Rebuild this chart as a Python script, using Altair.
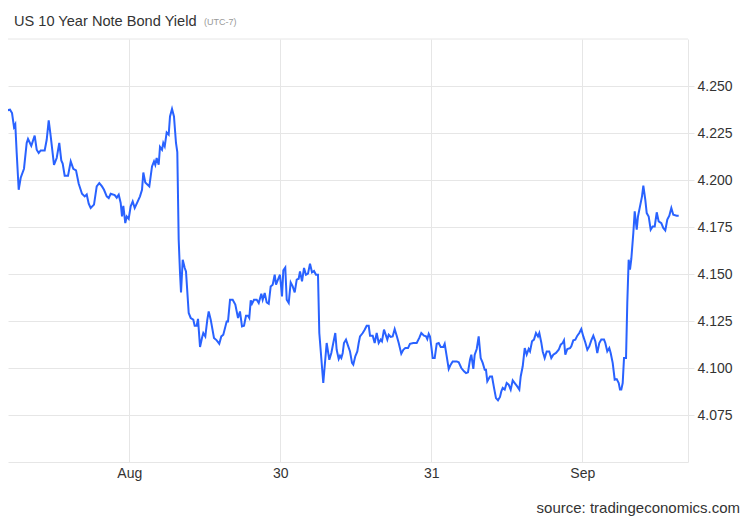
import altair as alt
import pandas as pd

# time in hours relative to Aug 29 00:00 (UTC-7)
hours = [-20.55, -20.12, -19.80, -19.49, -18.96, -18.64, -18.33, -18.12, -17.90, -17.58,
         -17.26, -16.74, -16.31, -16.10, -15.58, -15.04, -14.72, -14.40, -14.08, -13.45,
         -13.13, -12.81, -12.49, -11.97, -11.54, -11.13, -10.81, -10.59, -10.27, -9.74,
         -9.31, -8.90, -8.47, -8.04, -7.52, -7.09, -6.77, -6.45, -6.14, -5.61,
         -5.18, -4.77, -4.34, -4.02, -3.59, -3.27, -2.96, -2.32, -2.00, -1.68,
         -1.37, -1.16, -0.95, -0.64, -0.41, -0.10, 0.22, 0.54, 0.86, 1.27,
         1.70, 2.02, 2.23, 2.54, 3.18, 3.61, 3.93, 4.13, 4.35, 4.67,
         4.88, 5.20, 5.40, 5.63, 5.94, 6.26, 6.47, 6.79, 7.10, 7.42,
         7.63, 7.85, 8.06, 8.22, 8.49, 8.81, 9.01, 9.44, 9.76, 10.17,
         10.39, 10.71, 10.92, 11.24, 11.55, 11.76, 12.08, 12.40, 12.62, 12.94,
         13.46, 13.89, 14.30, 14.62, 14.94, 15.48, 15.69, 16.01, 16.43, 16.85,
         17.28, 17.59, 17.91, 18.23, 18.55, 18.87, 19.07, 19.30, 19.50, 19.82,
         20.25, 20.57, 20.98, 21.20, 21.52, 21.84, 22.16, 22.47, 22.79, 23.11,
         23.32, 23.63, 23.95, 24.27, 24.48, 24.79, 25.02, 25.34, 25.65, 25.97,
         26.29, 26.61, 26.92, 27.13, 27.45, 27.77, 28.08, 28.40, 28.72, 29.04,
         29.36, 29.67, 29.99, 30.20, 30.83, 31.37, 31.79, 32.11, 32.42, 32.74,
         32.96, 33.28, 33.49, 33.70, 33.92, 34.12, 34.44, 34.76, 35.08, 35.40,
         35.60, 35.92, 36.24, 36.46, 36.67, 37.10, 37.41, 37.73, 38.05, 38.26,
         38.69, 39.00, 39.32, 39.64, 39.96, 40.16, 40.48, 40.80, 41.01, 41.23,
         41.55, 41.86, 42.18, 42.50, 42.82, 43.23, 43.55, 43.87, 44.30, 44.61,
         45.14, 45.68, 46.09, 46.41, 46.84, 47.16, 47.36, 47.59, 47.79, 48.00,
         48.22, 48.54, 48.86, 49.18, 49.49, 49.91, 50.13, 50.45, 50.77, 51.08,
         51.40, 52.04, 52.36, 52.77, 53.20, 53.52, 53.83, 54.15, 54.36, 54.68,
         54.90, 55.22, 55.53, 55.85, 56.17, 56.49, 56.69, 56.90, 57.33, 57.65,
         57.97, 58.28, 58.60, 58.92, 59.13, 59.35, 59.67, 59.98, 60.30, 60.62,
         60.94, 61.26, 61.57, 61.99, 62.21, 62.53, 62.85, 63.16, 63.48, 63.69,
         64.01, 64.32, 64.64, 64.96, 65.17, 65.48, 65.71, 66.02, 66.34, 66.75,
         67.07, 67.39, 67.82, 68.25, 68.57, 68.88, 69.09, 69.30, 69.62, 70.05,
         70.25, 70.57, 70.89, 71.21, 71.52, 71.84, 72.16, 72.48, 72.80, 73.11,
         73.43, 73.75, 74.07, 74.38, 74.70, 75.02, 75.45, 75.66, 75.97, 76.29,
         76.51, 76.83, 77.15, 77.47, 77.79, 77.99, 78.20, 78.42, 78.63, 78.95,
         79.15, 79.37, 79.58, 79.79, 80.11, 80.33, 80.65, 80.85, 81.17, 81.49,
         81.70, 82.01, 82.24, 82.55, 82.87, 83.19, 83.51, 83.83, 84.14, 84.56,
         84.87, 85.19, 85.51, 85.83, 86.15, 86.46, 87.00, 87.32]

yields = [4.2413, 4.2374, 4.2338, 4.2370, 4.2374, 4.2356, 4.2282, 4.2296, 4.2145, 4.1948,
          4.2012, 4.2060, 4.2197, 4.2218, 4.2182, 4.2236, 4.2161, 4.2144, 4.2157, 4.2157,
          4.2214, 4.2317, 4.2232, 4.2081, 4.2117, 4.2197, 4.2104, 4.2087, 4.2023, 4.2023,
          4.2099, 4.2059, 4.2051, 4.1980, 4.1927, 4.1913, 4.1923, 4.1874, 4.1851, 4.1869,
          4.1966, 4.1984, 4.1966, 4.1948, 4.1913, 4.1904, 4.1927, 4.1920, 4.1906, 4.1922,
          4.1878, 4.1806, 4.1863, 4.1771, 4.1806, 4.1793, 4.1860, 4.1886, 4.1851, 4.1881,
          4.1913, 4.1948, 4.2040, 4.1987, 4.1966, 4.2072, 4.2099, 4.2081, 4.2117, 4.2081,
          4.2176, 4.2161, 4.2197, 4.2179, 4.2253, 4.2241, 4.2338, 4.2378, 4.2338, 4.2197,
          4.2148, 4.1682, 4.1505, 4.1402, 4.1576, 4.1532, 4.1514, 4.1293, 4.1266, 4.1257,
          4.1225, 4.1225, 4.1261, 4.1112, 4.1160, 4.1186, 4.1168, 4.1257, 4.1301, 4.1257,
          4.1160, 4.1147, 4.1129, 4.1168, 4.1177, 4.1248, 4.1248, 4.1363, 4.1363, 4.1337,
          4.1266, 4.1301, 4.1221, 4.1225, 4.1278, 4.1278, 4.1266, 4.1360, 4.1342, 4.1363,
          4.1363, 4.1346, 4.1395, 4.1363, 4.1399, 4.1349, 4.1342, 4.1434, 4.1443, 4.1496,
          4.1443, 4.1470, 4.1496, 4.1381, 4.1519, 4.1534, 4.1363, 4.1346, 4.1455, 4.1434,
          4.1402, 4.1470, 4.1475, 4.1514, 4.1461, 4.1532, 4.1496, 4.1502, 4.1555, 4.1509,
          4.1516, 4.1496, 4.1496, 4.1186, 4.0920, 4.1133, 4.1044, 4.1080, 4.1133, 4.1186,
          4.1097, 4.1048, 4.1065, 4.1053, 4.1080, 4.1133, 4.1151, 4.1119, 4.1088, 4.1027,
          4.1018, 4.1062, 4.1088, 4.1133, 4.1168, 4.1186, 4.1204, 4.1225, 4.1225, 4.1172,
          4.1172, 4.1133, 4.1186, 4.1133, 4.1151, 4.1142, 4.1204, 4.1172, 4.1151, 4.1177,
          4.1165, 4.1168, 4.1207, 4.1172, 4.1133, 4.1076, 4.1097, 4.1106, 4.1106, 4.1129,
          4.1133, 4.1133, 4.1160, 4.1186, 4.1172, 4.1168, 4.1154, 4.1182, 4.1168, 4.1115,
          4.1053, 4.1053, 4.1129, 4.1133, 4.1112, 4.1112, 4.1129, 4.1062, 4.0995, 4.1018,
          4.1035, 4.1035, 4.1030, 4.1000, 4.0982, 4.0973, 4.0977, 4.1044, 4.1071, 4.0995,
          4.1071, 4.1101, 4.1168, 4.1053, 4.1027, 4.0991, 4.0991, 4.0929, 4.0955, 4.0955,
          4.0894, 4.0840, 4.0828, 4.0846, 4.0876, 4.0894, 4.0885, 4.0920, 4.0911, 4.0885,
          4.0934, 4.0920, 4.0906, 4.0885, 4.0955, 4.1009, 4.1106, 4.1071, 4.1101, 4.1088,
          4.1142, 4.1151, 4.1186, 4.1168, 4.1186, 4.1136, 4.1088, 4.1053, 4.1088, 4.1088,
          4.1053, 4.1071, 4.1080, 4.1097, 4.1124, 4.1133, 4.1147, 4.1071, 4.1101, 4.1106,
          4.1115, 4.1147, 4.1151, 4.1172, 4.1186, 4.1207, 4.1168, 4.1136, 4.1097, 4.1115,
          4.1147, 4.1172, 4.1142, 4.1080, 4.1133, 4.1151, 4.1151, 4.1133, 4.1088, 4.1106,
          4.1080, 4.1027, 4.0938, 4.0941, 4.0920, 4.0885, 4.0885, 4.0920, 4.1053, 4.1053,
          4.1346, 4.1576, 4.1523, 4.1580, 4.1718, 4.1833, 4.1736, 4.1806, 4.1860, 4.1913,
          4.1970, 4.1895, 4.1824, 4.1806, 4.1736, 4.1753, 4.1753, 4.1828, 4.1780, 4.1771,
          4.1745, 4.1732, 4.1789, 4.1810, 4.1851, 4.1815, 4.1810, 4.1810]

x_ticks = [0, 24, 48, 72]
x_labels = ["Aug", "30", "31", "Sep"]
y_ticks = [4.075, 4.100, 4.125, 4.150, 4.175, 4.200, 4.225, 4.250]
top_line = [4.275]

title_text = "US 10 Year Note Bond Yield"
subtitle_text = "(UTC-7)"
source_text = "source: tradingeconomics.com"

FONT = "Liberation Sans"
GRID = "#e6e6e6"

df = pd.DataFrame({"h": hours, "v": yields})

label_expr = ""
for v, lab in zip(x_ticks, x_labels):
    label_expr += f"datum.value == {v} ? '{lab}' : "
label_expr += "''"

x_scale = alt.Scale(domain=[-19.28, 88.8], nice=False, zero=False)
y_scale = alt.Scale(domain=[4.05, 4.275], nice=False, zero=False)

line = alt.Chart(df).mark_line(color="#2962ff", strokeWidth=2, clip=True).encode(
    x=alt.X("h:Q", scale=x_scale,
            axis=alt.Axis(values=x_ticks, labelExpr=label_expr, grid=True, ticks=False,
                          domainColor=GRID, gridColor=GRID, labelFont=FONT, labelFontSize=14,
                          labelColor="#333333", labelPadding=4, title=None)),
    y=alt.Y("v:Q", scale=y_scale,
            axis=alt.Axis(orient="right", values=y_ticks, format=".3f", grid=True,
                          gridColor=GRID, tickColor=GRID, tickSize=6, domainColor=GRID,
                          labelPadding=3, labelFont=FONT, labelFontSize=14,
                          labelColor="#333333", title=None)),
)

top_rule = alt.Chart(pd.DataFrame({"y": top_line})).mark_rule(color=GRID, strokeWidth=1).encode(
    y=alt.Y("y:Q", scale=y_scale)
)

title = alt.Chart(pd.DataFrame({"t": [title_text]})).mark_text(
    align="left", baseline="alphabetic", font=FONT, fontSize=14.6, color="#333333"
).encode(x=alt.value(6), y=alt.value(-13), text="t:N")

subtitle = alt.Chart(pd.DataFrame({"t": [subtitle_text]})).mark_text(
    align="left", baseline="alphabetic", font=FONT, fontSize=9, color="#999999"
).encode(x=alt.value(196), y=alt.value(-14), text="t:N")

source = alt.Chart(pd.DataFrame({"t": [source_text]})).mark_text(
    align="right", baseline="alphabetic", font=FONT, fontSize=15, color="#333333"
).encode(x=alt.value(732), y=alt.value(474), text="t:N")

chart = alt.layer(top_rule, line, title, subtitle, source).properties(
    width=680, height=423,
    padding={"left": 0, "top": 31, "right": 54, "bottom": 55},
    autosize=alt.AutoSizeParams(type="none"),
).configure_view(strokeWidth=0)

chart.save("out.html", embed_options={"renderer": "svg", "actions": False})
